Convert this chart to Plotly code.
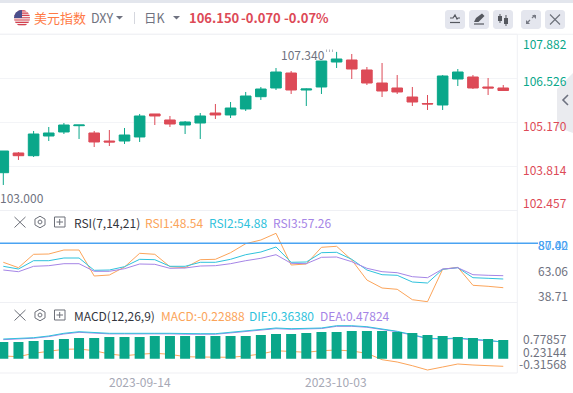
import math
import pandas as pd
import plotly.graph_objects as go

W, H = 573, 393
dates = [d.strftime("%Y-%m-%d") for d in pd.bdate_range("2023-09-01", periods=34)]
date_ticks = ["2023-09-14", "2023-10-03"]

opens = [103.616,104.224,104.140,104.747,104.871,105.065,104.840,104.593,104.593,104.717,105.426,105.241,105.086,105.148,105.456,105.395,105.580,105.959,106.227,106.689,106.165,106.258,107.028,107.090,106.782,106.381,106.227,105.949,105.749,105.703,106.504,106.566,106.258,106.227]
highs = [104.285,104.254,104.902,105.025,105.148,105.086,104.902,104.932,104.994,105.426,105.426,105.364,105.210,105.456,105.734,105.795,106.104,106.258,106.843,106.751,106.212,107.059,107.340,107.275,106.874,106.997,106.627,106.258,106.011,106.627,106.812,106.627,106.535,106.319]
lows = [103.237,104.008,104.100,104.593,104.809,104.655,104.408,104.439,104.501,104.563,105.086,105.025,104.809,104.655,105.271,105.302,105.518,105.857,106.165,106.042,105.672,106.042,106.843,106.504,106.319,105.949,106.042,105.672,105.549,105.549,106.288,106.196,106.011,106.150]
closes = [104.285,104.140,104.809,104.840,105.086,105.086,104.563,104.563,104.778,105.364,105.364,105.117,105.179,105.364,105.395,105.610,105.980,106.196,106.720,106.165,106.196,107.059,107.121,106.812,106.381,106.134,106.104,105.795,105.734,106.597,106.720,106.227,106.227,106.150]
price_ticks = [107.882, 106.526, 105.170, 103.814, 102.457]

rsi1 = [71.46,66.06,79.46,79.76,83.76,83.76,57.76,58.76,66.76,80.46,79.46,67.06,66.06,74.06,74.46,81.06,90.06,93.76,100.46,68.76,69.76,86.46,87.46,73.76,53.76,45.76,44.46,34.06,32.06,64.46,66.46,48.46,47.46,46.06]
rsi2 = [67.46,64.76,73.06,73.06,75.76,75.76,63.46,63.76,67.06,74.46,74.06,67.46,67.46,71.46,71.46,74.46,79.06,81.76,86.76,71.46,71.76,81.06,81.46,74.46,63.76,59.06,58.46,51.76,50.76,64.46,66.06,56.06,55.46,54.76]
rsi3 = [63.76,62.06,67.46,68.06,70.06,70.06,62.46,62.46,65.06,69.76,69.46,65.46,65.76,67.76,68.06,70.06,73.06,75.46,79.06,70.46,70.06,76.46,76.76,72.06,65.46,62.06,61.06,57.06,56.06,64.76,66.06,59.06,58.46,58.06]
rsi_limit = 90.46
rsi_ticks = [63.06, 38.71]

dif = [0.727,0.757,0.782,0.855,0.969,1.037,0.995,0.969,0.969,0.982,0.969,0.969,0.952,0.952,0.952,1.012,1.067,1.139,1.194,1.164,1.164,1.194,1.291,1.291,1.249,1.139,1.054,0.910,0.757,0.740,0.770,0.715,0.672,0.588]
dea = [0.700,0.730,0.760,0.830,0.940,1.010,0.970,0.945,0.945,0.955,0.945,0.945,0.930,0.930,0.930,0.985,1.040,1.110,1.165,1.140,1.140,1.170,1.265,1.265,1.225,1.115,1.035,0.890,0.745,0.725,0.750,0.690,0.650,0.610]
macd = [0.007,-0.023,0.121,0.219,0.291,0.303,0.231,0.091,0.019,0.079,0.121,0.079,-0.023,-0.036,-0.049,-0.049,0.007,0.091,0.231,0.206,0.163,0.231,0.261,0.219,0.121,-0.150,-0.248,-0.405,-0.587,-0.460,-0.333,-0.375,-0.405,-0.430]
hist = [0.708,0.708,0.751,0.793,0.835,0.878,0.878,0.920,0.920,0.920,0.963,0.963,0.963,0.963,0.963,0.963,0.963,1.005,1.047,1.047,1.090,1.132,1.132,1.175,1.175,1.175,1.132,1.090,1.005,0.963,0.920,0.878,0.835,0.793]
macd_ticks = ["0.77857", "0.23144", "-0.31568"]

GREEN, RED = "#0aa78a", "#dd4a57"
ORANGE, CYAN, PURPLE, BLUE = "#fba45a", "#2fc2dc", "#a585e6", "#4aa3f2"
GRID, AXTXT, DARK = "#f3f4f7", "#6f7280", "#33353d"
CHART_W = 517.3

def px(x): return x / W
def py(y): return 1 - y / H
def dom(top, bot): return [py(bot), py(top)]
X0, DX = 3.3, 15.15

fig = go.Figure()
fig.add_trace(go.Candlestick(x=dates, open=opens, high=highs, low=lows, close=closes,
    increasing=dict(line=dict(color=GREEN, width=1), fillcolor=GREEN),
    decreasing=dict(line=dict(color=RED, width=1), fillcolor=RED),
    whiskerwidth=0, xaxis="x", yaxis="y", showlegend=False))
for vals, col in ((rsi1, ORANGE), (rsi2, CYAN), (rsi3, PURPLE)):
    fig.add_trace(go.Scatter(x=dates, y=vals, mode="lines", line=dict(color=col, width=1),
                             xaxis="x", yaxis="y2", showlegend=False))
for vals, col in ((macd, ORANGE), (dea, PURPLE), (dif, CYAN)):
    fig.add_trace(go.Scatter(x=dates, y=vals, mode="lines", line=dict(color=col, width=1),
                             xaxis="x", yaxis="y3", showlegend=False))
fig.add_trace(go.Bar(x=dates, y=hist, marker=dict(color=GREEN, line=dict(width=0)),
                     xaxis="x", yaxis="y4", showlegend=False))

ann = []
def text(x, y, s, color, size=12, anchor="left", height=None):
    a = dict(x=px(x), y=py(y), xref="paper", yref="paper", text=s, showarrow=False,
             xanchor=anchor, yanchor="middle", xshift=0, borderpad=0, borderwidth=0,
             font=dict(family="Noto Sans CJK SC", size=size, color=color))
    if height:
        a["height"] = height
    ann.append(a)

# header
text(34, 17, "美元指数", "#ff7a45", 13)
text(91, 17, "DXY", AXTXT, 12.5)
text(144, 17, "日K", AXTXT, 12.5)
text(189, 17, "<b>106.150</b>", RED, 13)
text(241, 17, "<b>-0.070</b>", RED, 13)
text(284, 17, "<b>-0.07%</b>", RED, 13)
# axis labels
for t, y, c in zip(price_ticks, [43.7, 80.3, 125.7, 169.7, 202.7], [GREEN, GREEN, RED, RED, RED]):
    text(523, y, f"{t:.3f}", c, 12)
text(281, 55, "107.340", AXTXT, 12)
text(0, 197, "103.000", AXTXT, 12)
text(538, 244, "87.42", BLUE, 12)
text(538, 244, "80.00", BLUE, 12)
for t, y in zip(rsi_ticks, [270.7, 295]):
    text(538, y, f"{t:.2f}", AXTXT, 12)
for t, y in zip(macd_ticks, [337.7, 350.7, 363.3]):
    text(567, y, t, AXTXT, 12, "right", height=12)
for d, x in zip(date_ticks, [140, 336]):
    text(x, 381, d, "#a6a8b5", 12, "center")
# legends
text(74, 222, "RSI(7,14,21)", DARK, 12)
text(145, 222, "RSI1:48.54", ORANGE, 12)
text(209, 222, "RSI2:54.88", CYAN, 12)
text(273, 222, "RSI3:57.26", PURPLE, 12)
text(74, 315, "MACD(12,26,9)", DARK, 12)
text(161, 315, "MACD:-0.22888", ORANGE, 12)
text(249, 315, "DIF:0.36380", CYAN, 12)
text(320, 315, "DEA:0.47824", PURPLE, 12)

shapes = []
def P(x, y): return f"{px(x):.5f},{py(y):.5f}"
def path(pts, close=False, fill=None, line=None, lw=1, op=1):
    d = "M" + " L".join(P(*p) for p in pts) + (" Z" if close else "")
    shapes.append(dict(type="path", path=d, xref="paper", yref="paper", opacity=op, layer="above",
                       fillcolor=fill or "rgba(0,0,0,0)",
                       line=dict(color=line or "rgba(0,0,0,0)", width=lw)))
def rect(x0, y0, x1, y1, fill, layer="above"):
    shapes.append(dict(type="rect", xref="paper", yref="paper", x0=px(x0), x1=px(x1), y0=py(y0), y1=py(y1),
                       fillcolor=fill, line=dict(width=0), layer=layer))
def rrect(x0, y0, x1, y1, r, fill):
    pts = []
    for cx, cy, a0 in ((x1-r, y0+r, -90), (x1-r, y1-r, 0), (x0+r, y1-r, 90), (x0+r, y0+r, 180)):
        for k in range(5):
            a = math.radians(a0 + k * 22.5)
            pts.append((cx + r*math.cos(a), cy + r*math.sin(a)))
    path(pts, True, fill)

# frame
rect(0, 0, W, 3, "#e3e6ed", "below")
for y in (34.3, 210.5, 302.5, 373):
    rect(0, y-0.5, CHART_W, y+0.5, "#eff0f4", "below")
rect(CHART_W-0.5, 34, CHART_W+0.5, 373, "#eff0f4", "below")
rect(0, 33.8, W, 34.8, "#f1f2f5", "below")

# RSI limit line, running out to its label
shapes.append(dict(type="line", xref="paper", yref="y2", x0=0, x1=px(538), y0=rsi_limit, y1=rsi_limit,
                   line=dict(color=BLUE, width=1.4), layer="above"))

# flag
cx, cy, r = 22, 18, 8
def chord(y0, y1, fill):
    pts = []
    for y in (y0, (y0+y1)/2, y1):
        pts.append((cx - math.sqrt(max(r*r-(y-cy)**2, 0)), y))
    for y in (y1, (y0+y1)/2, y0):
        pts.append((cx + math.sqrt(max(r*r-(y-cy)**2, 0)), y))
    path(pts, True, fill)
path([(cx + r*math.cos(math.radians(a)), cy + r*math.sin(math.radians(a))) for a in range(0, 360, 15)], True, "#f6f0f0")
for k in range(0, 7, 1):
    y0 = 10 + k * 16/7 + 0.3
    chord(y0, y0 + 1.15, "#d3404f")
path([(cx-8, cy)] + [(cx + r*math.cos(math.radians(a)), cy + r*math.sin(math.radians(a))) for a in range(180, 271, 15)] + [(cx, cy)], True, "#4a4f8c")

# header carets and divider
path([(116, 16), (123, 16), (119.5, 19.5)], True, AXTXT)
path([(173, 16), (180, 16), (176.5, 19.5)], True, AXTXT)
rect(134, 12, 135, 24, "#d5d7de")

# buttons
ICON = "#55585f"
for x0 in (445, 469, 493, 521, 545):
    rrect(x0, 10, x0+20, 29, 3, "#e4e6ee")
path([(450, 22.5), (460, 22.5)], line=ICON, lw=1.2)
path([(450, 18), (453, 18), (455, 15), (457, 19), (458, 18), (460, 18)], line=ICON, lw=1.2)
path([(474, 22), (476, 18), (482, 13.5), (484.5, 16), (478.5, 22)], True, ICON)
path([(474, 24), (484, 24)], line=ICON, lw=1.2)
for cxx, t, b, w0, w1 in ((500, 16, 21, 14, 23), (506, 18, 24, 15, 26)):
    path([(cxx, w0), (cxx, w1)], line=ICON, lw=1)
    rect(cxx-2, t, cxx+2, b, ICON)
path([(527, 23), (530, 20)], line="#777a84", lw=1.2)
path([(532, 18), (535, 15)], line="#777a84", lw=1.2)
path([(526, 20), (526, 24), (530, 24)], True, "#777a84")
path([(532, 15), (536, 15), (536, 19)], True, "#777a84")
path([(550, 14.5), (560, 24.5)], line="#6c6f78", lw=1.1)
path([(560, 14.5), (550, 24.5)], line="#6c6f78", lw=1.1)

# side arrow
path([(573, 73), (557, 89), (557, 127), (573, 133)], True, "#e6e7ec", op=0.8)
path([(568, 95), (563, 100), (568, 105)], line="#6e7280", lw=1.6)

# leader dots near the high label
for x in (326, 329, 332):
    rect(x, 49.5, x+1, 52, "#b5b7c0")

# legend icons
for yc in (222, 315):
    path([(14.5, yc-5), (25.5, yc+5.5)], line="#6c6f78", lw=1)
    path([(25.5, yc-5), (14.5, yc+5.5)], line="#6c6f78", lw=1)
    hexa = [(40 + 5.8*math.cos(math.radians(a)), yc + 5.8*math.sin(math.radians(a))) for a in range(-90, 270, 60)]
    path(hexa, True, None, "#6c6f78", 1)
    path([(40 + 2*math.cos(math.radians(a)), yc + 2*math.sin(math.radians(a))) for a in range(0, 360, 45)], True, None, "#6c6f78", 1)
    path([(54.5, yc-5), (65, yc-5), (65, yc+5), (54.5, yc+5)], True, None, "#6c6f78", 1)
    path([(56.5, yc), (63, yc)], line="#6c6f78", lw=1)
    path([(59.7, yc-3), (59.7, yc+3)], line="#6c6f78", lw=1)

xr = [(0 - X0) / DX, (CHART_W - X0) / DX]
fig.update_layout(
    width=W, height=H, margin=dict(l=0, r=0, t=0, b=0), autosize=False,
    paper_bgcolor="white", plot_bgcolor="white", showlegend=False, bargap=0.34, boxgap=0.3, boxgroupgap=0,
    font=dict(family="Noto Sans CJK SC"), annotations=ann, shapes=shapes, hovermode=False,
    xaxis=dict(domain=[0, CHART_W / W], type="category", categoryorder="array", categoryarray=dates,
               range=xr, anchor="y4", showgrid=False, zeroline=False, showline=False, ticks="",
               showticklabels=False, rangeslider=dict(visible=False)),
    yaxis=dict(domain=dom(34.3, 210.3), range=[102.457, 107.882], tickmode="array", tickvals=price_ticks,
               showticklabels=False, gridcolor=GRID, gridwidth=1, zeroline=False, ticks="", fixedrange=True),
    yaxis2=dict(domain=dom(210.5, 302.5), range=[333.76-302.5, 333.76-210.5], showgrid=False,
                showticklabels=False, zeroline=False, ticks=""),
    yaxis3=dict(domain=dom(302.5, 373), range=[15.101-0.0424*373, 15.101-0.0424*302.5], showgrid=False,
                showticklabels=False, zeroline=False, ticks=""),
    yaxis4=dict(domain=dom(302.5, 373), range=[-(373-358.7)*0.0424, (358.7-302.5)*0.0424], showgrid=False,
                showticklabels=False, zeroline=False, ticks="", anchor="x", side="left"),
)
# vertical grid through all panels, on the date ticks
for d in date_ticks:
    i = dates.index(d)
    xp = (X0 + DX * i)
    rect(xp-0.7, 34, xp+0.7, 373, GRID, "below")

fig.layout.yaxis4.overlaying = "y3"
fig.write_html("out.html", config=dict(displayModeBar=False),
               post_script="document.body.style.margin='0';document.documentElement.style.overflow='hidden';")
